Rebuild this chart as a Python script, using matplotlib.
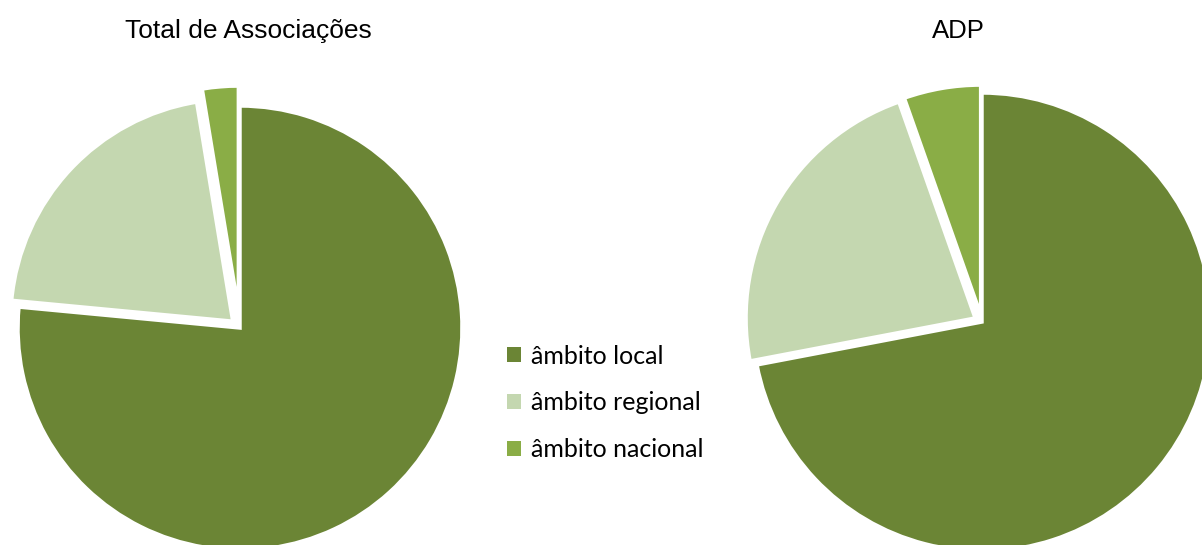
import matplotlib
matplotlib.use("Agg")
import matplotlib.pyplot as plt
from matplotlib.patches import Patch

categories = ["âmbito local", "âmbito regional", "âmbito nacional"]
total_values = [76.5, 20.9, 2.6]
adp_values = [72.0, 22.6, 5.4]
titles = ["Total de Associações", "ADP"]
colors = ["#6b8535", "#c4d7b0", "#8aad46"]

W, H = 1202, 545
fig = plt.figure(figsize=(W / 100, H / 100), dpi=100)

def pie_axes(cx, cy, r, a=1.2):
    size = 2 * a * r
    ax = fig.add_axes([(cx - a * r) / W, (H - cy - a * r) / H, size / W, size / H])
    ax.set_axis_off()
    return ax

ax1 = pie_axes(240, 328, 222)
ax1.pie(total_values, colors=colors, startangle=90, counterclock=False,
        explode=[0, 0.045, 0.09], radius=1,
        wedgeprops=dict(edgecolor="white", linewidth=2.5))
ax1.set_xlim(-1.2, 1.2); ax1.set_ylim(-1.2, 1.2)

ax2 = pie_axes(982, 322, 229)
ax2.pie(adp_values, colors=colors, startangle=90, counterclock=False,
        explode=[0, 0.035, 0.035], radius=1,
        wedgeprops=dict(edgecolor="white", linewidth=2.5))
ax2.set_xlim(-1.2, 1.2); ax2.set_ylim(-1.2, 1.2)

fig.text(248 / W, 1 - 31 / H, titles[0], ha="center", va="center",
         fontsize=19, family="Liberation Sans")
fig.text(958 / W, 1 - 31 / H, titles[1], ha="center", va="center",
         fontsize=18.5, family="Liberation Sans")

handles = [Patch(facecolor=c, edgecolor="none") for c in colors]
fig.legend(handles, categories, loc="center left",
           bbox_to_anchor=(507 / W, 1 - 403 / H), frameon=False,
           prop=dict(family="Lato", size=18), handlelength=0.55, handleheight=0.55,
           handletextpad=0.4, labelspacing=0.95, borderaxespad=0, borderpad=0)

fig.savefig("out.png", dpi=100)
